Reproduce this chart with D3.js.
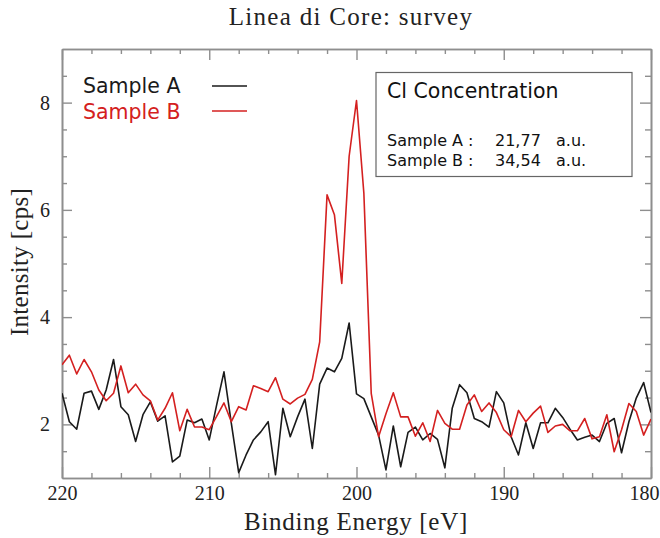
<!DOCTYPE html>
<html>
<head>
<meta charset="utf-8">
<script src="https://cdn.jsdelivr.net/npm/d3@7"></script>
<style>
  html, body { margin: 0; padding: 0; background: #fff; }
  svg { display: block; }
</style>
</head>
<body>
<svg id="chart" width="660" height="538"></svg>
<script>
const title = "Linea di Core: survey";
const xLabel = "Binding Energy [eV]";
const yLabel = "Intensity [cps]";
const seriesNames = ["Sample A", "Sample B"];
const boxTitle = "Cl Concentration";
const boxValues = ["21,77", "34,54"];
const boxUnit = "a.u.";
const xTicks = [220, 210, 200, 190, 180];
const yTicks = [2, 4, 6, 8];

const energy = [
  220, 219.5, 219, 218.5, 218, 217.5, 217, 216.5, 216, 215.5,
  215, 214.5, 214, 213.5, 213, 212.5, 212, 211.5, 211, 210.5,
  210, 209.5, 209, 208.5, 208, 207.5, 207, 206.5, 206, 205.5,
  205, 204.5, 204, 203.5, 203, 202.5, 202, 201.5, 201, 200.5,
  200, 199.5, 199, 198.5, 198, 197.5, 197, 196.5, 196, 195.5,
  195, 194.5, 194, 193.5, 193, 192.5, 192, 191.5, 191, 190.5,
  190, 189.5, 189, 188.5, 188, 187.5, 187, 186.5, 186, 185.5,
  185, 184.5, 184, 183.5, 183, 182.5, 182, 181.5, 181, 180.5,
  180
];

const sampleA = [
  2.58, 2.05, 1.91, 2.58, 2.62, 2.28, 2.64, 3.21, 2.33, 2.18,
  1.68, 2.18, 2.42, 2.06, 2.16, 1.30, 1.41, 2.08, 2.03, 2.10,
  1.71, 2.36, 2.98, 2.02, 1.10, 1.43, 1.71, 1.86, 2.05, 1.06,
  2.30, 1.77, 2.14, 2.47, 1.55, 2.75, 3.05, 2.98, 3.23, 3.89,
  2.57, 2.48, 2.14, 1.80, 1.15, 1.97, 1.21, 1.85, 1.95, 1.71,
  1.83, 1.72, 1.19, 2.30, 2.74, 2.59, 2.11, 2.05, 1.95, 2.61,
  2.40, 1.77, 1.43, 2.03, 1.55, 2.03, 2.03, 2.30, 2.13, 1.91,
  1.71, 1.76, 1.80, 1.68, 2.02, 2.11, 1.47, 2.05, 2.49, 2.78,
  2.22
];

const sampleB = [
  3.11, 3.29, 2.94, 3.21, 2.98, 2.64, 2.44, 2.58, 3.09, 2.59,
  2.75, 2.55, 2.44, 2.08, 2.30, 2.59, 1.88, 2.28, 1.95, 1.95,
  1.90, 2.15, 2.40, 2.05, 2.33, 2.27, 2.72, 2.67, 2.61, 2.87,
  2.47, 2.38, 2.49, 2.56, 2.84, 3.54, 6.28, 5.91, 4.63, 7.00,
  8.04, 6.31, 2.58, 1.77, 2.20, 2.59, 2.14, 2.14, 1.78, 2.03,
  1.68, 2.26, 2.02, 1.91, 1.91, 2.36, 2.55, 2.24, 2.40, 2.22,
  1.90, 1.77, 2.26, 2.05, 2.21, 2.34, 1.85, 1.97, 2.00, 1.88,
  1.88, 2.11, 1.73, 1.77, 2.18, 1.49, 1.90, 2.39, 2.24, 1.80,
  2.10
];

const colors = ["#1a1a1a", "#d42020"];

const svg = d3.select("#chart");
const L = 62, R = 651, T = 49, B = 478;
const x = d3.scaleLinear().domain([220, 180]).range([L, R]);
const y = d3.scaleLinear().domain([1, 9]).range([B, T]);

const axisColor = "#8e8e8e";
const serif = "'Liberation Serif', 'Times New Roman', serif";
const sans = "'DejaVu Sans', Verdana, sans-serif";

function styleAxis(g) {
  g.selectAll("path.domain").attr("stroke", axisColor).attr("stroke-width", 1.6);
  g.selectAll(".tick line").attr("stroke", axisColor).attr("stroke-width", 1.4);
  g.selectAll(".tick text").attr("fill", "#222").style("font-family", serif).style("font-size", "20px");
}

// minor ticks
const xMinor = d3.range(180, 221, 2).filter(v => v % 10 !== 0);
const yMinor = d3.range(1.5, 9, 0.5).filter(v => v % 2 !== 0);

// bottom
svg.append("g").attr("transform", `translate(0,${B})`)
  .call(d3.axisBottom(x).tickValues(xMinor).tickSize(-5).tickSizeOuter(0).tickFormat(""))
  .call(styleAxis);
const xMajor = svg.append("g").attr("transform", `translate(0,${B})`)
  .call(d3.axisBottom(x).tickValues(xTicks).tickSize(-11).tickSizeOuter(0).tickPadding(8).tickFormat(d3.format("d")))
  .call(styleAxis);
// keep the last label (at the right frame) inside the picture
xMajor.selectAll(".tick text").filter(d => d === 180)
  .attr("text-anchor", "end").attr("x", 8);
// top
svg.append("g").attr("transform", `translate(0,${T})`)
  .call(d3.axisTop(x).tickValues(xMinor).tickSize(-5).tickSizeOuter(0).tickFormat(""))
  .call(styleAxis);
svg.append("g").attr("transform", `translate(0,${T})`)
  .call(d3.axisTop(x).tickValues(xTicks).tickSize(-11).tickSizeOuter(0).tickFormat(""))
  .call(styleAxis);
// left
svg.append("g").attr("transform", `translate(${L},0)`)
  .call(d3.axisLeft(y).tickValues(yMinor).tickSize(-5).tickSizeOuter(0).tickFormat(""))
  .call(styleAxis);
svg.append("g").attr("transform", `translate(${L},0)`)
  .call(d3.axisLeft(y).tickValues(yTicks).tickSize(-10).tickSizeOuter(0).tickPadding(12).tickFormat(d3.format("d")))
  .call(styleAxis);
// right
svg.append("g").attr("transform", `translate(${R},0)`)
  .call(d3.axisRight(y).tickValues(yMinor).tickSize(-6).tickSizeOuter(0).tickFormat(""))
  .call(styleAxis);
svg.append("g").attr("transform", `translate(${R},0)`)
  .call(d3.axisRight(y).tickValues(yTicks).tickSize(-11).tickSizeOuter(0).tickFormat(""))
  .call(styleAxis);

// lines
const line = d3.line().x(d => x(d[0])).y(d => y(d[1]));
svg.append("clipPath").attr("id", "clip")
  .append("rect").attr("x", L).attr("y", T).attr("width", R - L).attr("height", B - T);
[sampleA, sampleB].forEach((s, i) => {
  svg.append("path")
    .datum(energy.map((e, k) => [e, s[k]]))
    .attr("fill", "none")
    .attr("stroke", colors[i])
    .attr("stroke-width", 1.6)
    .attr("stroke-linejoin", "round")
    .attr("clip-path", "url(#clip)")
    .attr("d", line);
});

// title
svg.append("text").attr("x", 351).attr("y", 25).attr("text-anchor", "middle")
  .style("font-family", serif).style("font-size", "25px").style("letter-spacing", "1.3px")
  .attr("fill", "#222").text(title);

// axis labels
svg.append("text").attr("x", 356).attr("y", 530).attr("text-anchor", "middle")
  .style("font-family", serif).style("font-size", "25px").style("letter-spacing", "0.7px")
  .attr("fill", "#222").text(xLabel);
svg.append("text").attr("transform", "translate(28,262) rotate(-90)").attr("text-anchor", "middle")
  .style("font-family", serif).style("font-size", "25px").style("letter-spacing", "0.3px")
  .attr("fill", "#222").text(yLabel);

// legend
const leg = svg.append("g");
seriesNames.forEach((n, i) => {
  leg.append("text").attr("x", 83).attr("y", 93 + i * 26)
    .style("font-family", sans).style("font-size", "20.5px")
    .attr("fill", colors[i]).text(n);
  leg.append("line").attr("x1", 212).attr("x2", 247)
    .attr("y1", 86 + i * 25).attr("y2", 86 + i * 25)
    .attr("stroke", colors[i]).attr("stroke-width", 1.6);
});

// concentration box
const box = svg.append("g");
box.append("rect").attr("x", 376).attr("y", 72.5).attr("width", 256).attr("height", 104)
  .attr("fill", "#fff").attr("stroke", "#666").attr("stroke-width", 1.2);
box.append("text").attr("x", 387).attr("y", 98)
  .style("font-family", sans).style("font-size", "20.5px").attr("fill", "#111").text(boxTitle);
seriesNames.forEach((n, i) => {
  const yy = 146 + i * 20;
  box.append("text").attr("x", 387).attr("y", yy)
    .style("font-family", sans).style("font-size", "16px").attr("fill", "#111").text(n);
  box.append("text").attr("x", 468).attr("y", yy)
    .style("font-family", sans).style("font-size", "16px").attr("fill", "#111").text(":");
  box.append("text").attr("x", 495).attr("y", yy)
    .style("font-family", sans).style("font-size", "16px").attr("fill", "#111").text(boxValues[i]);
  box.append("text").attr("x", 556).attr("y", yy)
    .style("font-family", sans).style("font-size", "16px").attr("fill", "#111").text(boxUnit);
});
</script>
</body>
</html>
